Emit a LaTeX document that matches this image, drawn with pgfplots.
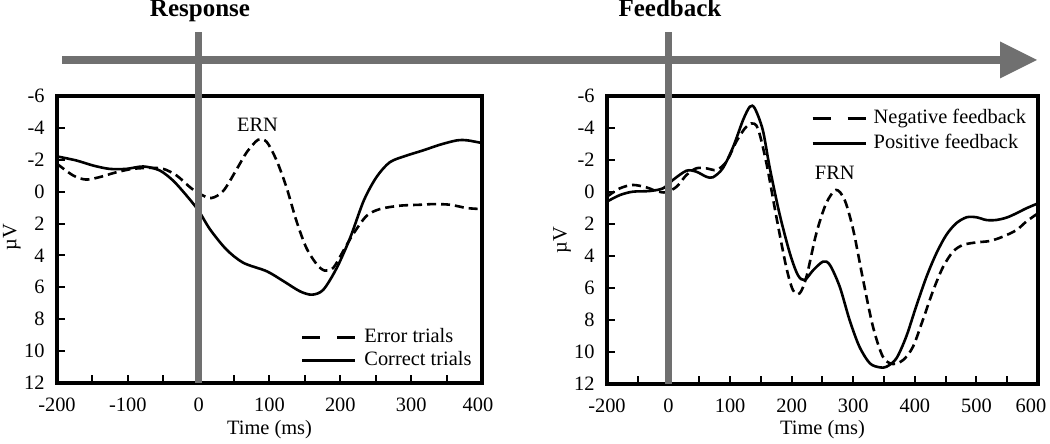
\documentclass[border=0pt]{standalone}
\usepackage{fontspec}
\setmainfont{Liberation Serif}
\usepackage{pgfplots}
\pgfplotsset{compat=1.18}
\definecolor{bargray}{RGB}{112,112,112}
\pgfplotsset{
  erpaxis/.style={
    scale only axis,
    axis line style={line width=1.8pt},
    y dir=reverse, ymin=-6, ymax=12,
    ytick={-6,-4,...,12}, yticklabels={-6,-4,-2,0,2,4,6,8,10,12},
    tick align=inside, xtick pos=bottom, ytick pos=left,
    major tick length=4pt, minor tick length=4pt,
    every tick/.style={black, line width=1pt},
    tick label style={font=\fontsize{10.2}{12}\selectfont},
    label style={font=\fontsize{10.2}{12}\selectfont},
    yticklabel style={inner sep=0pt, xshift=-6pt},
    xticklabel style={inner sep=0pt, yshift=-7.5pt},
    xlabel={Time (ms)}, ylabel={µV},
    legend image code/.code={\draw (0pt,0pt) -- (26.5pt,0pt);},
    legend cell align=left,
    clip=false,
  },
  dashcurve/.style={black, line width=1.3pt, smooth, dash pattern=on 4.5pt off 2.5pt},
  solidcurve/.style={black, line width=1.3pt, smooth},
}
\begin{document}
\begin{tikzpicture}
\useasboundingbox (0,0) rectangle (525pt,222pt);
% Left panel: Response
\begin{axis}[erpaxis,
  at={(28.5pt,30.5pt)}, anchor=south west, width=212.5pt, height=143.5pt,
  xmin=-200, xmax=400,
  xtick={-200,-100,...,400}, xticklabels={-200,-100,0,100,200,300,{400\makebox[4pt]{}}},
  minor xtick={-150,-50,...,350},
  xlabel style={at={(axis description cs:0.5,-0.164)}, anchor=center},
  ylabel style={at={(axis description cs:-0.106,0.509)}, anchor=center, rotate=0},
  legend style={at={(0.572,0.037)}, anchor=south west, draw=none, fill=none, inner sep=0pt,
    column sep=2.5pt, row sep=0pt, font=\fontsize{10.2}{12}\selectfont,
    nodes={text height=7pt, text depth=2pt, inner sep=1.25pt}},
]
\addlegendimage{black, line width=1.7pt, dash pattern=on 9pt off 8.5pt}
\addlegendimage{black, line width=1.7pt}
\legend{Error trials, Correct trials}
\addplot[solidcurve] coordinates {(-200,-2.21) (-173,-1.96) (-149,-1.64) (-126,-1.43) (-102,-1.43) (-78,-1.58) (-55,-1.33) (-36,-0.69) (-17,0.25) (0,1.2) (16,2.36) (39,3.62) (63,4.46) (96,4.99) (120,5.62) (143,6.25) (160,6.46) (176,6.15) (195,4.78) (214,2.88) (233,0.57) (251,-0.91) (270,-1.85) (294,-2.27) (317,-2.59) (341,-2.95) (365,-3.22) (379,-3.22) (400,-3.05)};
\addplot[dashcurve] coordinates {(-200,-1.75) (-177,-1.01) (-159,-0.76) (-140,-0.91) (-116,-1.22) (-93,-1.43) (-69,-1.49) (-50,-1.43) (-31,-1.01) (-12,-0.27) (2,0.15) (18,0.4) (35,-0.06) (54,-1.43) (68,-2.48) (84,-3.26) (96,-3.12) (110,-1.96) (124,-0.27) (138,1.83) (152,3.52) (167,4.57) (178,4.95) (190,4.78) (204,3.73) (218,2.67) (237,1.52) (256,1.09) (284,0.88) (313,0.82) (332,0.78) (355,0.82) (379,1.03) (400,1.09)};
\node[font=\fontsize{10.2}{12}\selectfont] at (axis cs:83,-4.2) {ERN};
\end{axis}
% Right panel: Feedback
\begin{axis}[erpaxis,
  at={(303.5pt,30pt)}, anchor=south west, width=215.5pt, height=144pt,
  xmin=-100, xmax=600,
  xtick={-100,0,...,600}, xticklabels={-200,0,100,200,300,400,500,{600\makebox[7pt]{}}},
  minor xtick={-50,50,...,550},
  xlabel style={at={(axis description cs:0.5,-0.16)}, anchor=center},
  ylabel style={at={(axis description cs:-0.104,0.5)}, anchor=center, rotate=0},
  legend style={at={(0.472,0.967)}, anchor=north west, draw=none, fill=none, inner sep=0pt,
    column sep=1.5pt, row sep=0pt, font=\fontsize{10.2}{12}\selectfont,
    nodes={text height=7pt, text depth=2pt, inner sep=1.75pt}},
]
\addlegendimage{black, line width=1.7pt, dash pattern=on 9pt off 8.5pt}
\addlegendimage{black, line width=1.7pt}
\legend{Negative feedback, Positive feedback}
\addplot[solidcurve] coordinates {(-100,0.6) (-79,0.19) (-58,-0.02) (-31,-0.06) (-9,-0.23) (7,-0.75) (29,-1.33) (45,-1.27) (61,-0.96) (72,-0.92) (88,-1.48) (105,-2.83) (121,-4.5) (132,-5.33) (140,-5.23) (153,-3.88) (164,-1.58) (180,1.33) (197,3.83) (210,5.19) (221,5.5) (235,4.88) (251,4.35) (262,4.56) (278,5.92) (294,8.0) (310,9.67) (327,10.71) (343,10.96) (354,10.92) (370,10.4) (386,9.04) (402,7.17) (419,5.29) (435,3.83) (451,2.69) (467,1.96) (484,1.58) (500,1.58) (516,1.75) (532,1.75) (549,1.6) (565,1.33) (581,1.02) (600,0.71)};
\addplot[dashcurve] coordinates {(-100,0.29) (-79,-0.23) (-58,-0.44) (-36,-0.29) (-20,-0.06) (-4,0.02) (13,-0.33) (29,-1.06) (45,-1.48) (61,-1.48) (78,-1.38) (94,-1.9) (110,-3.15) (124,-3.98) (134,-4.29) (145,-3.98) (159,-1.79) (175,1.54) (191,4.67) (202,6.13) (213,6.33) (224,5.29) (240,2.58) (256,0.71) (272,-0.13) (286,0.5) (300,2.38) (316,5.5) (332,8.42) (348,10.29) (364,10.75) (381,10.5) (397,9.67) (413,8.0) (430,6.13) (446,4.67) (462,3.73) (478,3.31) (500,3.15) (522,3.06) (543,2.79) (565,2.38) (581,1.85) (600,1.33)};
\node[font=\fontsize{10.2}{12}\selectfont] at (axis cs:270,-1.2) {FRN};
\end{axis}
% Timeline arrow and event markers
\draw[bargray, line width=4pt] (31pt,192pt) -- (501pt,192pt);
\fill[bargray] (500pt,201.25pt) -- (518.5pt,192pt) -- (500pt,182.75pt) -- cycle;
\draw[bargray, line width=3.5pt] (99.33pt,30.5pt) -- (99.33pt,206pt);
\draw[bargray, line width=3.5pt] (334.3pt,30pt) -- (334.3pt,206pt);
\node[anchor=base, font=\bfseries\fontsize{12.5}{14}\selectfont] at (100pt,213.5pt) {Response};
\node[anchor=base, font=\bfseries\fontsize{12.5}{14}\selectfont] at (335pt,213.5pt) {Feedback};
\end{tikzpicture}
\end{document}
